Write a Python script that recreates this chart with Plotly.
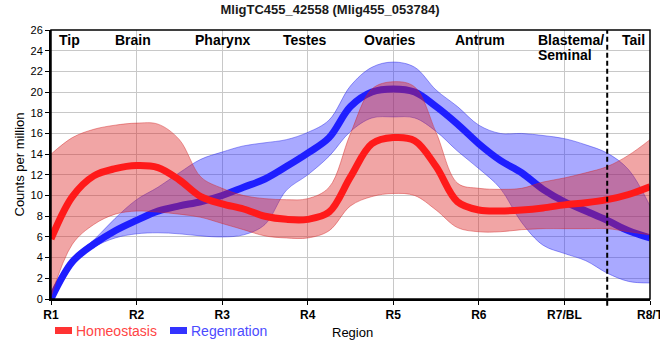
import plotly.graph_objects as go

# ---------------- data ----------------
regions = [1.0, 1.25, 1.5, 1.75, 2.0, 2.25, 2.5, 2.75, 3.0, 3.25, 3.5, 3.75, 4.0, 4.25,
           4.5, 4.75, 5.0, 5.25, 5.5, 5.75, 6.0, 6.25, 6.5, 6.75, 7.0, 7.25, 7.5, 7.75, 8.0]

homeo_mean = [5.8, 9.9, 11.9, 12.6, 12.9, 12.7, 11.5, 9.9, 9.2, 8.7, 8.0, 7.7, 7.7, 8.4,
              11.8, 15.0, 15.6, 15.3, 12.8, 9.4, 8.6, 8.5, 8.6, 8.8, 9.1, 9.3, 9.6, 10.1, 10.85]
homeo_upper = [14.0, 15.6, 16.4, 16.8, 17.0, 16.9, 15.4, 11.8, 10.7, 10.0, 9.7, 9.6, 9.7, 10.8,
               16.0, 20.3, 21.0, 20.5, 16.1, 11.2, 10.7, 10.6, 10.7, 11.3, 11.7, 12.2, 12.8, 13.9, 15.4]
homeo_lower = [0.2, 5.3, 7.2, 8.2, 8.5, 8.4, 8.2, 7.9, 7.3, 6.7, 6.1, 5.9, 5.9, 6.6,
               9.0, 9.9, 10.2, 10.0, 8.6, 6.9, 6.5, 6.5, 6.7, 6.8, 6.8, 6.8, 6.8, 6.5, 6.2]

regen_mean = [0.0, 3.6, 5.3, 6.6, 7.6, 8.5, 9.0, 9.4, 10.0, 10.8, 11.6, 12.8, 14.1, 15.6,
              18.6, 20.0, 20.3, 20.0, 18.6, 16.9, 15.0, 13.4, 12.2, 10.6, 9.4, 8.5, 7.6, 6.6, 5.9]
regen_upper = [0.3, 3.9, 5.7, 7.8, 9.6, 10.8, 12.2, 13.5, 14.2, 14.8, 15.1, 15.4, 16.1, 17.3,
               20.6, 22.4, 22.9, 22.4, 20.2, 18.6, 16.8, 16.0, 16.0, 15.8, 15.5, 14.9, 14.1, 12.5, 9.0]
regen_lower = [0.0, 3.3, 5.0, 5.9, 6.3, 6.4, 6.3, 6.1, 6.0, 6.2, 7.2, 10.5, 12.0, 13.8,
               16.2, 17.5, 17.6, 17.5, 16.2, 14.3, 12.6, 10.7, 7.4, 5.2, 4.4, 3.7, 2.5, 1.7, 1.55]

tick_vals = [1, 2, 3, 4, 5, 6, 7, 8]
tick_text = ["R1", "R2", "R3", "R4", "R5", "R6", "R7/BL", "R8/T"]

tissue_names = ["Tip", "Brain", "Pharynx", "Testes", "Ovaries", "Antrum", "Tail"]
tissue_pos = [1.22, 1.96, 3.0, 3.97, 4.96, 6.01, 7.81]

series_names = ["Homeostasis", "Regenration"]
divider_x = 7.5

# ---------------- figure ----------------
SANS = "Liberation Sans, Arial, sans-serif"

fig = go.Figure()

# Regeneration band
fig.add_trace(go.Scatter(x=regions, y=regen_upper, mode="lines", line=dict(color="rgba(40,40,230,0.45)", width=1, shape="spline"),
                         showlegend=False, hoverinfo="skip"))
fig.add_trace(go.Scatter(x=regions, y=regen_lower, mode="lines", line=dict(color="rgba(40,40,230,0.45)", width=1, shape="spline"),
                         fill="tonexty", fillcolor="rgba(40,40,255,0.40)", showlegend=False, hoverinfo="skip"))
fig.add_trace(go.Scatter(x=regions, y=regen_mean, mode="lines", name=series_names[1],
                         line=dict(color="#1e1eff", width=7, shape="spline"), showlegend=False))

# Homeostasis band
fig.add_trace(go.Scatter(x=regions, y=homeo_upper, mode="lines", line=dict(color="rgba(210,40,40,0.45)", width=1, shape="spline"),
                         showlegend=False, hoverinfo="skip"))
fig.add_trace(go.Scatter(x=regions, y=homeo_lower, mode="lines", line=dict(color="rgba(210,40,40,0.45)", width=1, shape="spline"),
                         fill="tonexty", fillcolor="rgba(220,30,30,0.40)", showlegend=False, hoverinfo="skip"))
fig.add_trace(go.Scatter(x=regions, y=homeo_mean, mode="lines", name=series_names[0],
                         line=dict(color="#ff1a1a", width=7, shape="spline"), showlegend=False))

# dashed divider
fig.add_shape(type="line", xref="x", yref="paper", x0=divider_x, x1=divider_x, y0=-0.025, y1=1,
              line=dict(color="black", width=2, dash="5px,3px"))
# frame
fig.add_shape(type="rect", xref="paper", yref="paper", x0=0, x1=1, y0=0, y1=1,
              line=dict(color="black", width=1.5))

annotations = []
for name, pos in zip(tissue_names, tissue_pos):
    annotations.append(dict(x=pos, y=25.0, xref="x", yref="y", text="<b>%s</b>" % name, showarrow=False,
                            xanchor="center", yanchor="middle", font=dict(family=SANS, size=14, color="black")))
annotations.append(dict(x=6.666, y=25.0, xref="x", yref="y", text="<b>Blastema/</b>", showarrow=False,
                        xanchor="left", yanchor="middle", font=dict(family=SANS, size=14, color="black")))
annotations.append(dict(x=6.666, y=23.6, xref="x", yref="y", text="<b>Seminal</b>", showarrow=False,
                        xanchor="left", yanchor="middle", font=dict(family=SANS, size=14, color="black")))

# custom legend (pixel -> paper conversion: plot spans x 51..650, y 30..299)
def px_x(px):
    return (px - 51) / 599.0

def px_y(py):
    return (299 - py) / 269.0

legend_items = [(55, 72, 74, "#ff3333", "#ff4444", series_names[0]),
                (170, 187, 189, "#3333ff", "#4b4bff", series_names[1])]
for x0, x1, xt, sw, tc, label in legend_items:
    fig.add_shape(type="rect", xref="paper", yref="paper", x0=px_x(x0), x1=px_x(x1),
                  y0=px_y(334), y1=px_y(327), line=dict(width=0), fillcolor=sw)
    annotations.append(dict(x=px_x(xt), y=px_y(331), xref="paper", yref="paper", text=label, showarrow=False,
                            xanchor="left", yanchor="middle", font=dict(family=SANS, size=14, color=tc)))

annotations.append(dict(x=px_x(352), y=px_y(332), xref="paper", yref="paper", text="Region", showarrow=False,
                        xanchor="center", yanchor="middle", font=dict(family=SANS, size=13, color="black")))
annotations.append(dict(x=px_x(19), y=0.5, xref="paper", yref="paper", text="Counts per million", showarrow=False,
                        textangle=-90, xanchor="center", yanchor="middle", font=dict(family=SANS, size=13, color="black")))

fig.update_layout(
    width=660, height=360,
    margin=dict(l=51, r=10, t=30, b=61, autoexpand=False),
    paper_bgcolor="white", plot_bgcolor="white",
    title=dict(text="<b>MligTC455_42558 (Mlig455_053784)</b>", x=0.5, xanchor="center", y=1 - 9 / 360, yanchor="middle",
               font=dict(family=SANS, size=13, color="#1a1a1a"), automargin=False),
    showlegend=False,
    annotations=annotations,
    xaxis=dict(range=[1, 8], tickvals=tick_vals, ticktext=tick_text, showgrid=True, gridcolor="#c8c8c8", gridwidth=1,
               showline=True, linecolor="black", linewidth=2, ticks="outside", ticklen=4, tickcolor="black",
               tickfont=dict(family=SANS, size=12, color="black", weight="bold"), zeroline=False,
               automargin=False, ticklabeloverflow="allow"),
    yaxis=dict(range=[0, 26], dtick=2, showgrid=True, gridcolor="#c8c8c8", gridwidth=1,
               showline=True, linecolor="black", linewidth=2, ticks="outside", ticklen=4, tickcolor="black",
               tickfont=dict(family=SANS, size=11, color="black"), zeroline=False, automargin=False),
)

fig.write_html("out.html", config={"displayModeBar": False},
               post_script="document.body.style.margin='0px';document.body.style.overflow='hidden';")
